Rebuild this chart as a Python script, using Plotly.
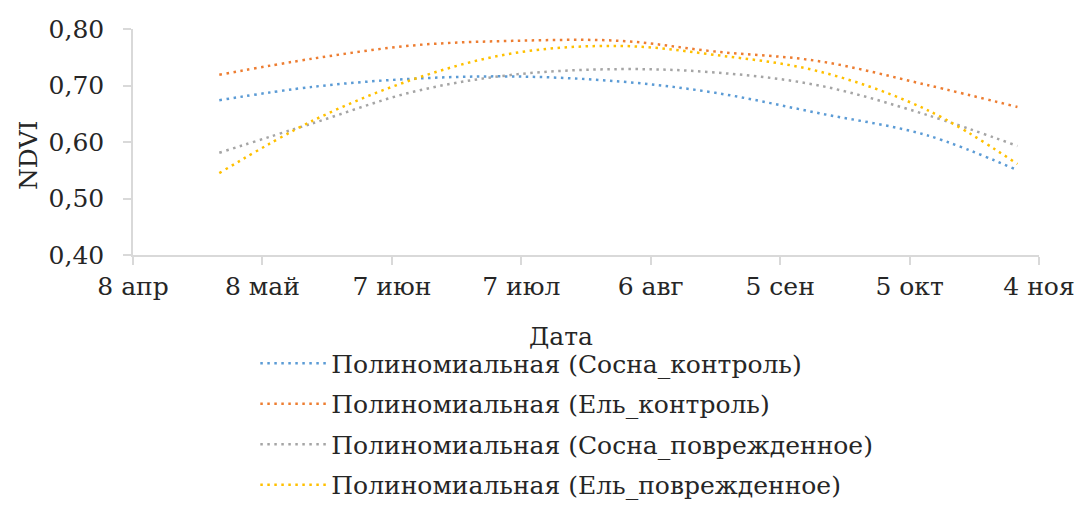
import plotly.graph_objects as go

dates = ["2019-04-28", "2019-05-20", "2019-06-12", "2019-07-05", "2019-07-30",
         "2019-08-21", "2019-09-14", "2019-10-09", "2019-10-30"]

pine_control = [0.674, 0.698, 0.712, 0.716, 0.707, 0.687, 0.651, 0.612, 0.550]
spruce_control = [0.719, 0.748, 0.771, 0.779, 0.779, 0.760, 0.743, 0.701, 0.662]
pine_damaged = [0.581, 0.634, 0.689, 0.719, 0.729, 0.723, 0.700, 0.648, 0.593]
spruce_damaged = [0.545, 0.639, 0.711, 0.757, 0.770, 0.754, 0.725, 0.657, 0.561]

series_names = ["Полиномиальная (Сосна_контроль)",
                "Полиномиальная (Ель_контроль)",
                "Полиномиальная (Сосна_поврежденное)",
                "Полиномиальная (Ель_поврежденное)"]
series_values = [pine_control, spruce_control, pine_damaged, spruce_damaged]
colors = ["#5B9BD5", "#ED7D31", "#A5A5A5", "#FFC000"]

tick_dates = ["2019-04-08", "2019-05-08", "2019-06-07", "2019-07-07",
              "2019-08-06", "2019-09-05", "2019-10-05", "2019-11-04"]
tick_labels = ["8 апр", "8 май", "7 июн", "7 июл", "6 авг", "5 сен", "5 окт", "4 ноя"]
y_ticks = [0.40, 0.50, 0.60, 0.70, 0.80]

FONT = "DejaVu Serif"
TXT = "#262626"
FS = 25

fig = go.Figure()
for i, (name, vals, col) in enumerate(zip(series_names, series_values, colors)):
    fig.add_trace(go.Scatter(
        x=dates, y=vals, name=name, mode="lines", legendgroup=f"g{i}",
        line=dict(color=col, width=2.5, dash="2.5px,4.5px", shape="spline", smoothing=1.0),
    ))

fig.update_layout(
    width=1079, height=509,
    margin=dict(l=133, r=40, t=29, b=254, pad=0, autoexpand=False),
    paper_bgcolor="white", plot_bgcolor="white",
    separators=", ",
    font=dict(family=FONT, size=FS, color=TXT),
    showlegend=True,
    legend=dict(
        x=0.135, xanchor="left", y=-0.378, yanchor="top",
        orientation="v", font=dict(family=FONT, size=FS, color=TXT),
        bgcolor="rgba(0,0,0,0)", itemwidth=66, tracegroupgap=5,
    ),
    xaxis=dict(
        type="date",
        range=["2019-04-08", "2019-11-04"],
        tickvals=tick_dates, ticktext=tick_labels,
        showgrid=False, zeroline=False,
        showline=True, linecolor="#D9D9D9", linewidth=1.5,
        ticks="outside", ticklen=8, tickcolor="#D9D9D9", tickwidth=1.5,
        ticklabeloverflow="allow",
        tickfont=dict(family=FONT, size=FS, color=TXT),
    ),
    yaxis=dict(
        range=[0.40, 0.80],
        tickvals=y_ticks, tickformat=".2f",
        showgrid=False, zeroline=False,
        showline=True, linecolor="#D9D9D9", linewidth=1.5,
        ticks="outside", ticklen=8, tickcolor="#D9D9D9", tickwidth=1.5,
        ticklabelstandoff=14,
        tickfont=dict(family=FONT, size=FS, color=TXT),
    ),
    annotations=[
        dict(text="Дата", xref="paper", yref="paper", x=0.472, y=-0.36,
             xanchor="center", yanchor="middle", showarrow=False,
             font=dict(family=FONT, size=FS, color=TXT)),
        dict(text="NDVI", xref="paper", yref="paper", x=-0.116, y=0.442,
             xanchor="center", yanchor="middle", showarrow=False, textangle=-90,
             font=dict(family=FONT, size=FS, color=TXT)),
    ],
)

fig.write_html("out.html",
               config={"displayModeBar": False},
               post_script="document.body.style.margin='0';document.body.style.overflow='hidden';")
